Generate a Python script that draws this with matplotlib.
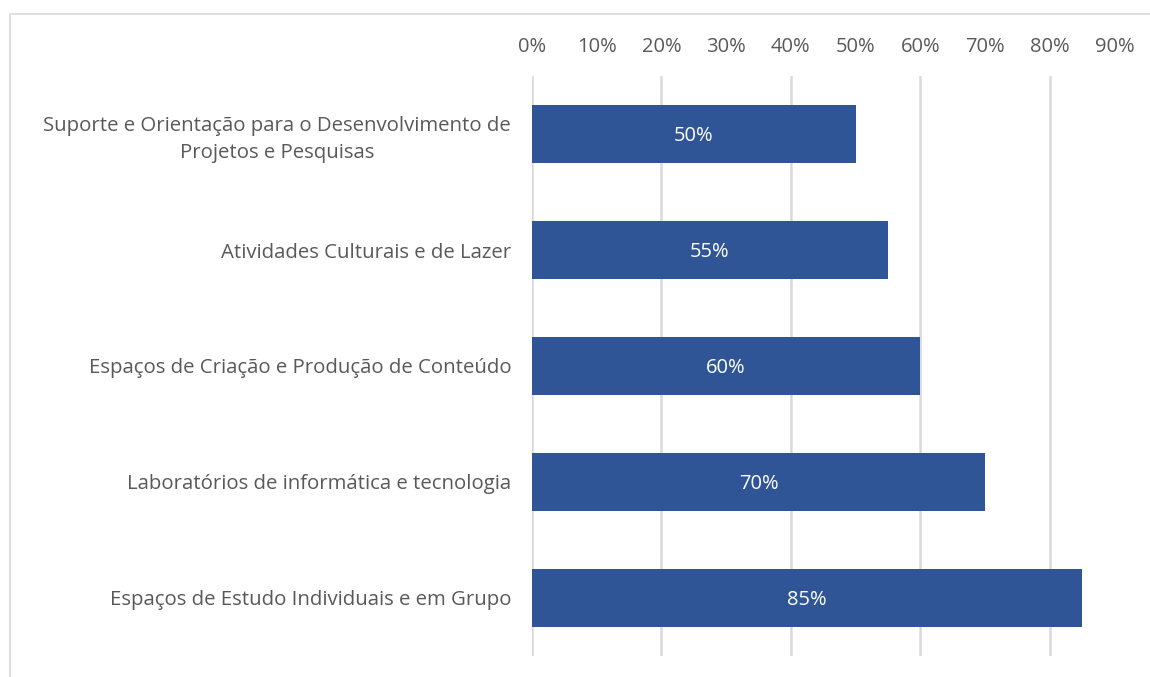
import matplotlib
matplotlib.use("Agg")
import matplotlib.pyplot as plt
from matplotlib.lines import Line2D
from matplotlib.ticker import FuncFormatter

categories = [
    "Suporte e Orientação para o Desenvolvimento de\nProjetos e Pesquisas",
    "Atividades Culturais e de Lazer",
    "Espaços de Criação e Produção de Conteúdo",
    "Laboratórios de informática e tecnologia",
    "Espaços de Estudo Individuais e em Grupo",
]
values = [0.50, 0.55, 0.60, 0.70, 0.85]

plt.rcParams['font.family'] = ['Open Sans', 'DejaVu Sans']
text_color = '#595959'
bar_color = '#2F5597'
grid_color = '#D9D9D9'

fig = plt.figure(figsize=(11.5, 6.77), dpi=100)
ax = fig.add_axes([532 / 1150, 1 - 656 / 677, (1114.5 - 532) / 1150, (656 - 76) / 677])

y = list(range(len(categories)))
bars = ax.barh(y, values, height=0.5, color=bar_color, zorder=3)
ax.set_ylim(len(categories) - 0.5, -0.5)
ax.set_xlim(0, 0.9)

# value labels inside bars
for yi, v in zip(y, values):
    ax.text(v / 2, yi + 0.02, f"{v:.0%}", ha='center', va='center', color='white', fontsize=14.5, zorder=4)

# gridlines every 20%, labels every 10%
for g in [0, 0.2, 0.4, 0.6, 0.8]:
    ax.axvline(g, color=grid_color, lw=1.8, zorder=1)

ax.set_xticks([i / 10 for i in range(10)])
ax.xaxis.set_major_formatter(FuncFormatter(lambda x, _: f"{x:.0%}"))
ax.xaxis.tick_top()
ax.tick_params(axis='x', length=0, pad=14, labelsize=14.5, labelcolor=text_color)
ax.set_yticks(y)
ax.set_yticklabels(categories, fontsize=14.7, color=text_color, linespacing=1.45)
ax.tick_params(axis='y', length=0, pad=15)
for lbl in ax.get_yticklabels():
    lbl.set_multialignment('center')

for s in ax.spines.values():
    s.set_visible(False)

# outer frame (chart area border, partly cut off)
fig.add_artist(Line2D([10 / 1150, 10 / 1150, 1.0], [0, 1 - 14 / 677, 1 - 14 / 677],
                      transform=fig.transFigure, color=grid_color, lw=1.2))

fig.savefig("out.png", dpi=100)
